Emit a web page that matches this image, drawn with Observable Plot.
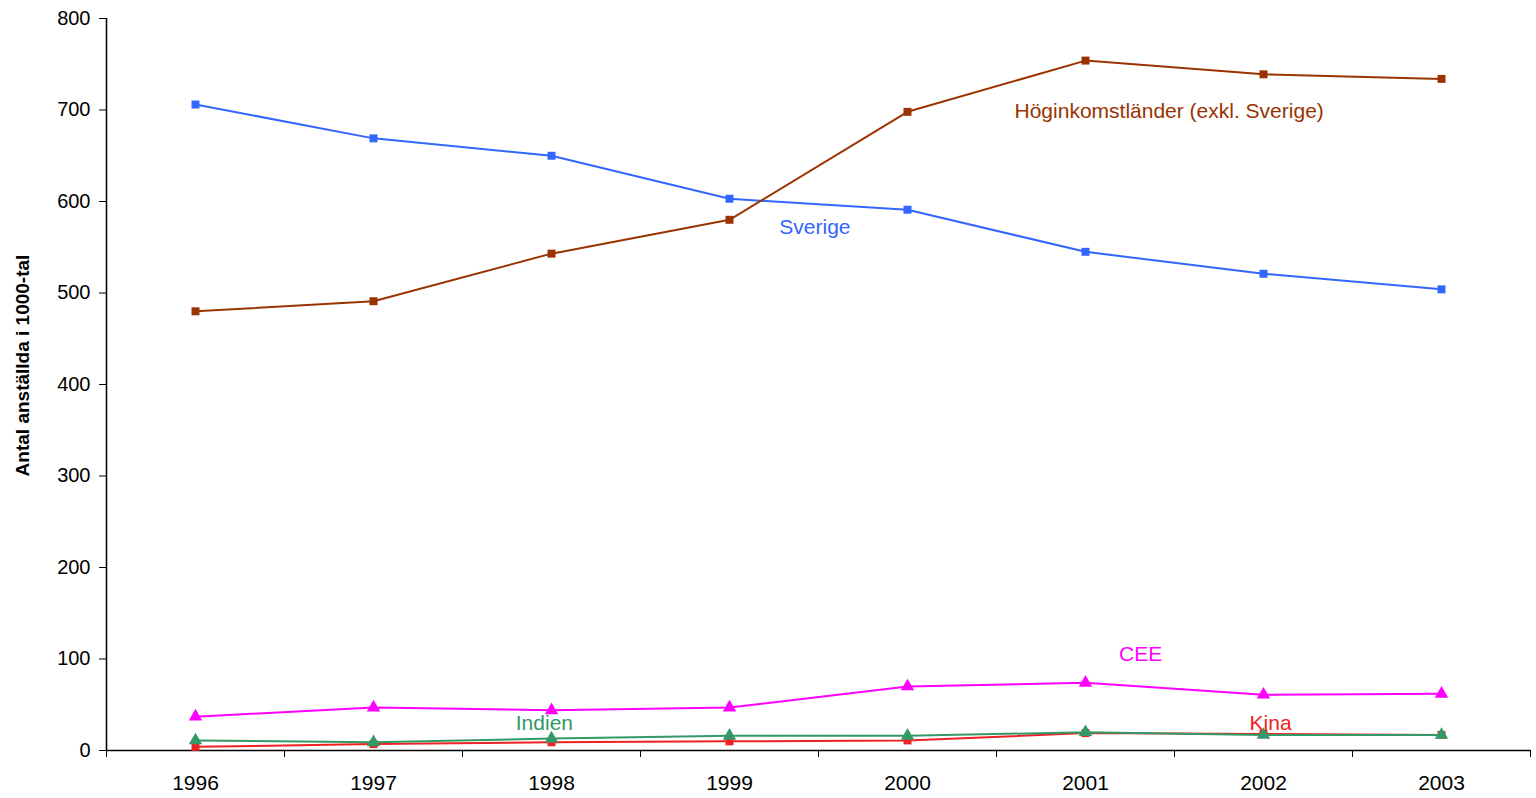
<!DOCTYPE html>
<html>
<head>
<meta charset="utf-8">
<script src="https://cdn.jsdelivr.net/npm/d3@7"></script>
<script src="https://cdn.jsdelivr.net/npm/@observablehq/plot@0.6"></script>
<style>
  html, body { margin: 0; padding: 0; background: #fff; }
  #chart svg { display: block; }
</style>
</head>
<body>
<div id="chart"></div>
<script>
const years = [1996, 1997, 1998, 1999, 2000, 2001, 2002, 2003];
const sverige = [706, 669, 650, 603, 591, 545, 521, 504];
const hoginkomst = [480, 491, 543, 580, 698, 754, 739, 734];
const cee = [37, 47, 44, 47, 70, 74, 61, 62];
const indien = [11, 9, 13, 16, 16, 20, 17, 17];
const kina = [4, 7, 9, 10, 11, 19, 18, 17];
const yTicks = [0, 100, 200, 300, 400, 500, 600, 700, 800];
const yLabel = "Antal anställda i 1000-tal";

const seriesDefs = [
  {name: "Sverige", values: sverige, color: "#3366ff", symbol: "square"},
  {name: "Höginkomstländer (exkl. Sverige)", values: hoginkomst, color: "#993300", symbol: "square"},
  {name: "CEE", values: cee, color: "#ff00ff", symbol: "triangle"},
  {name: "Kina", values: kina, color: "#ee2222", symbol: "square"},
  {name: "Indien", values: indien, color: "#339966", symbol: "triangle"}
];

const labelDefs = [
  {text: "Höginkomstländer (exkl. Sverige)", x: 2001.47, y: 699, color: "#993300"},
  {text: "Sverige", x: 1999.48, y: 572, color: "#3366ff"},
  {text: "CEE", x: 2001.31, y: 105, color: "#ff00ff"},
  {text: "Indien", x: 1997.96, y: 30, color: "#339966"},
  {text: "Kina", x: 2002.04, y: 30, color: "#ee2222"}
];

const rows = seriesDefs.flatMap(s => years.map((yr, i) => ({series: s.name, year: yr, value: s.values[i]})));
const boundaries = [...years.map(y => y - 0.5), years[years.length - 1] + 0.5];

const marks = [
  Plot.ruleX([boundaries[0]], {stroke: "#000", strokeWidth: 1.5}),
  Plot.ruleY([0], {stroke: "#000", strokeWidth: 1.5}),
  Plot.axisY({ticks: yTicks, tickSize: 7, tickPadding: 9, fontSize: 20, label: null}),
  Plot.axisX({ticks: boundaries, tickFormat: () => "", tickSize: 7, label: null}),
  Plot.axisX({ticks: years, tickFormat: d => String(d), tickSize: 0, tickPadding: 25, fontSize: 21, label: null}),
  Plot.text([yLabel], {text: d => d, frameAnchor: "left", textAnchor: "middle", dx: -84, dy: -19, rotate: -90, fontWeight: "bold", fontSize: 19, fill: "#000"})
];
for (const s of seriesDefs) {
  const data = rows.filter(r => r.series === s.name);
  marks.push(Plot.line(data, {x: "year", y: "value", stroke: s.color, strokeWidth: 2}));
  marks.push(Plot.dot(data, {x: "year", y: "value", fill: s.color, symbol: s.symbol, r: s.symbol === "square" ? 4.5 : 5, stroke: "none"}));
}
for (const l of labelDefs) {
  marks.push(Plot.text([l], {x: "x", y: "y", text: "text", fill: l.color, fontSize: 21}));
}

const chart = Plot.plot({
  width: 1536,
  height: 798,
  marginLeft: 106,
  marginRight: 6,
  marginTop: 18,
  marginBottom: 48,
  style: {fontFamily: "'Liberation Sans', Arial, sans-serif", background: "#fff", color: "#000"},
  x: {type: "linear", domain: [boundaries[0], boundaries[boundaries.length - 1]]},
  y: {domain: [0, 800]},
  marks
});
document.getElementById("chart").appendChild(chart);
</script>
</body>
</html>
